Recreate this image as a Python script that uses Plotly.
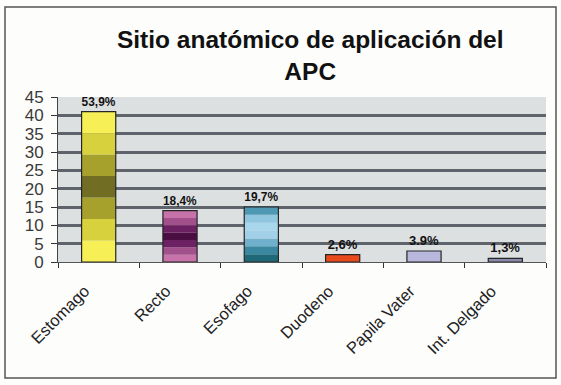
import plotly.graph_objects as go

categories = ["Estomago", "Recto", "Esofago", "Duodeno", "Papila Vater", "Int. Delgado"]
values = [41, 14, 15, 2, 3, 1]
pct_labels = ["53,9%", "18,4%", "19,7%", "2,6%", "3.9%", "1,3%"]
y_ticks = [0, 5, 10, 15, 20, 25, 30, 35, 40, 45]

# band colours bottom -> top (imitating the gradient fills)
band_colors = [
    ["#f6ef55", "#d8d13e", "#a6a02c", "#716d22", "#a6a02c", "#d8d13e", "#f6ef55"],
    ["#c872aa", "#a2508c", "#6c2262", "#4a0e42", "#6c2262", "#a2508c", "#c872aa"],
    ["#1e6878", "#3a88a0", "#70b0cc", "#a2d0e8", "#a8d6ec", "#90c6e0", "#4e98b4"],
    ["#e84a1c"] * 7,
    ["#b8b8dc"] * 7,
    ["#8a8aac"] * 7,
]
K = 7
W = 0.42

fig = go.Figure()
for k in range(K):
    fig.add_trace(go.Bar(
        x=categories,
        y=[v / K for v in values],
        base=[v * k / K for v in values],
        width=W,
        marker=dict(color=[band_colors[i][k] for i in range(len(categories))],
                    line=dict(width=0)),
        hoverinfo="skip",
        showlegend=False,
    ))

fig.add_trace(go.Bar(
    x=categories,
    y=values,
    width=W,
    marker=dict(color="rgba(0,0,0,0)", line=dict(color="#262626", width=1.2)),
    text=["<b>" + t + "</b>" for t in pct_labels],
    textposition="outside",
    textfont=dict(family="Liberation Sans, Arial, sans-serif", size=13, color="#111111"),
    cliponaxis=False,
    showlegend=False,
))

fig.update_layout(
    width=561, height=385,
    barmode="overlay",
    paper_bgcolor="#fdfdfc",
    plot_bgcolor="#dde0e1",
    margin=dict(l=58, r=15, t=97, b=123, autoexpand=False),
    font=dict(family="Liberation Sans, Arial, sans-serif", color="#222222"),
    title=dict(
        text="<b>Sitio anatómico de aplicación del<br>APC</b>",
        x=0.553, xanchor="center", y=0.875, yanchor="top",
        font=dict(size=24.5, color="#111111"),
    ),
    xaxis=dict(
        automargin=False,
        tickangle=-45,
        tickfont=dict(size=16.5, color="#222222"),
        ticks="outside", ticklen=5, tickson="boundaries", tickcolor="#333333",
        ticklabelshift=-14, ticklabelstandoff=12,
        showline=True, linecolor="#555555", linewidth=1,
        showgrid=False,
    ),
    yaxis=dict(
        automargin=False,
        range=[0, 45],
        tickvals=y_ticks,
        tickfont=dict(size=17, color="#3a3a3a"),
        ticks="outside", ticklen=6, tickcolor="#333333",
        ticklabelstandoff=4,
        showline=True, linecolor="#444444", linewidth=1,
        showgrid=True, gridcolor="#5f636c", gridwidth=2.5,
        zeroline=False,
    ),
    shapes=[dict(
        type="rect", xref="paper", yref="paper",
        x0=-0.1086, x1=1.0205, y0=-0.703, y1=1.545,
        line=dict(color="#555555", width=1.5), fillcolor="rgba(0,0,0,0)",
        layer="above",
    )],
)

fig.write_html("out.html", config={"displayModeBar": False},
               post_script="document.body.style.margin='0';")
